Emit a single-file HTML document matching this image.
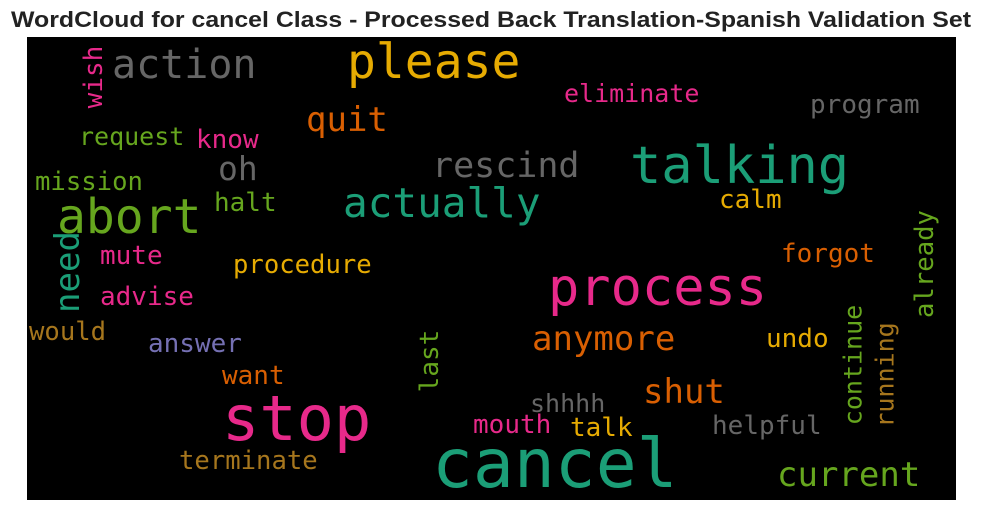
<!DOCTYPE html>
<html><head><meta charset="utf-8"><style>
body{margin:0;background:#fff;width:982px;height:511px;overflow:hidden}
svg{display:block}
</style></head><body>
<svg id="chart" width="982" height="511">
<text x="491" y="27" text-anchor="middle" font-family="Liberation Sans, sans-serif" font-weight="bold" font-size="22" fill="#222" textLength="960" lengthAdjust="spacingAndGlyphs">WordCloud for cancel Class - Processed Back Translation-Spanish Validation Set</text>
<rect x="27" y="37" width="929" height="463" fill="#000"/>
<g id="words"></g>
</svg>
<script>
const words=["cancel","stop","process","talking","abort","actually","please","action","rescind","anymore","shut","current","quit","oh","eliminate","program","request","know","mission","halt","calm","mute","procedure","forgot","advise","would","answer","undo","want","shhhh","mouth","talk","helpful","terminate","wish","need","last","continue","running","already"];
const sizes=[68,62,52,52,48,41,48,40,35,34,34,34,34,33,25,26,25,26,25.6,26,26,26,25.6,26,26,25.6,26,26,26,25,26,26,26,25.6,26,34,26,25,25,25.6];
const colorKeys=["teal","pink","pink","teal","green","teal","yellow","gray","gray","orange","orange","green","orange","gray","pink","gray","green","pink","green","green","yellow","pink","yellow","orange","pink","brown","purple","yellow","orange","gray","pink","yellow","gray","brown","pink","teal","green","green","brown","green"];
const layoutX=[432,222,548,630,57,343,347,112,432,532,643,777,306,218,564,810,79,196,35,214,719,100,233,781,100,29,148,766,222,530,473,570,712,179,94,68,430,853,885,925];
const layoutY=[487,440,305,183,233,217,78,78,177,350,403,486,131,180,102,113,145,148,190,211,208,264,273,262,305,340,352,347,384,412,433,436,434,469,77,272,361,365,375,264];
const vertical=[0,0,0,0,0,0,0,0,0,0,0,0,0,0,0,0,0,0,0,0,0,0,0,0,0,0,0,0,0,0,0,0,0,0,1,1,1,1,1,1];
const palette={teal:"#1b9e77",orange:"#d95f02",purple:"#7570b3",pink:"#e7298a",green:"#66a61e",yellow:"#e6ab02",brown:"#a6761d",gray:"#666666"};
const g=document.getElementById("words");
words.forEach((w,i)=>{
 const t=document.createElementNS("http://www.w3.org/2000/svg","text");
 t.textContent=w;
 t.setAttribute("font-family","DejaVu Sans Mono, Liberation Mono, monospace");
 t.setAttribute("font-size",sizes[i]);
 t.setAttribute("fill",palette[colorKeys[i]]);
 if(vertical[i]){
  t.setAttribute("text-anchor","middle");
  t.setAttribute("dominant-baseline","central");
  t.setAttribute("transform","translate("+layoutX[i]+","+layoutY[i]+") rotate(-90)");
 } else {
  t.setAttribute("x",layoutX[i]);t.setAttribute("y",layoutY[i]);
  t.setAttribute("textLength",(w.length*sizes[i]*0.602).toFixed(1));
 }
 
 
 g.appendChild(t);
});
</script>
</body></html>
